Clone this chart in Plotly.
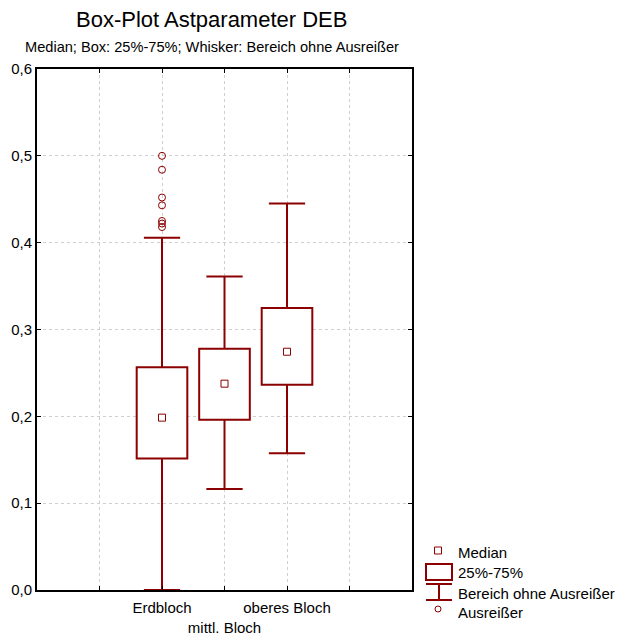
import plotly.graph_objects as go

# ---- data ----
categories = ["Erdbloch", "mittl. Bloch", "oberes Bloch"]
medians = [0.1985, 0.2376, 0.2744]
q1 = [0.1513, 0.1962, 0.2364]
q3 = [0.2564, 0.2778, 0.3247]
whisker_low = [0.0, 0.1164, 0.1574]
whisker_high = [0.4056, 0.3610, 0.4450]
outlier_cat = ["Erdbloch"] * 7
outlier_vals = [0.500, 0.484, 0.452, 0.443, 0.425, 0.422, 0.418]
y_ticks = [0.0, 0.1, 0.2, 0.3, 0.4, 0.5, 0.6]
legend_labels = ["Median", "25%-75%", "Bereich ohne Ausreißer", "Ausreißer"]

# ---- style / layout constants ----
W, H = 619, 641
ML, MR, MT, MB = 37, 207, 69, 51
RED = "#8B0000"
FONT = "Liberation Sans, Arial, sans-serif"
BOX_W = 0.81
CAP_HW = 0.29

pos = [i + 2 for i in range(len(categories))]
posmap = dict(zip(categories, pos))

fig = go.Figure()

# boxes (white fill, dark red outline)
fig.add_trace(go.Bar(
    x=pos, y=[b - a for a, b in zip(q1, q3)], base=q1, width=BOX_W,
    marker=dict(color="white", line=dict(color=RED, width=2)),
    showlegend=False, hoverinfo="skip"))

# whiskers with caps
wx, wy = [], []
for p, lo, a, b, hi in zip(pos, whisker_low, q1, q3, whisker_high):
    wx += [p, p, None, p - CAP_HW, p + CAP_HW, None,
           p, p, None, p - CAP_HW, p + CAP_HW, None]
    wy += [b, hi, None, hi, hi, None,
           lo, a, None, lo, lo, None]
fig.add_trace(go.Scatter(x=wx, y=wy, mode="lines",
                         line=dict(color=RED, width=2),
                         showlegend=False, hoverinfo="skip"))

# medians
fig.add_trace(go.Scatter(x=pos, y=medians, mode="markers",
                         marker=dict(symbol="square-open", size=7, color=RED,
                                     line=dict(width=1, color=RED)),
                         showlegend=False))

# outliers
fig.add_trace(go.Scatter(x=[posmap[c] for c in outlier_cat], y=outlier_vals,
                         mode="markers",
                         marker=dict(symbol="circle-open", size=7, color=RED,
                                     line=dict(width=1, color=RED)),
                         showlegend=False))

# ---- custom legend (paper coordinates from pixels) ----
PW = W - ML - MR
PH = H - MT - MB


def px(x):
    return (x - ML) / PW


def py(y):
    return (H - MB - y) / PH


shapes = [
    dict(type="rect", xref="paper", yref="paper", x0=px(434.5), x1=px(441.5),
         y0=py(554), y1=py(547), line=dict(color=RED, width=1)),
    dict(type="rect", xref="paper", yref="paper", x0=px(426), x1=px(452),
         y0=py(580), y1=py(564), line=dict(color=RED, width=2)),
    dict(type="line", xref="paper", yref="paper", x0=px(439), x1=px(439),
         y0=py(600), y1=py(584), line=dict(color=RED, width=2)),
    dict(type="line", xref="paper", yref="paper", x0=px(426), x1=px(452),
         y0=py(584), y1=py(584), line=dict(color=RED, width=2)),
    dict(type="line", xref="paper", yref="paper", x0=px(426), x1=px(452),
         y0=py(600), y1=py(600), line=dict(color=RED, width=2)),
    dict(type="circle", xref="paper", yref="paper", x0=px(435), x1=px(441),
         y0=py(612), y1=py(606), line=dict(color=RED, width=1)),
]
annotations = []
for lab, yy in zip(legend_labels, [552, 572, 593, 612]):
    annotations.append(dict(text=lab, xref="paper", yref="paper", x=px(456),
                            y=py(yy), xanchor="left", yanchor="middle",
                            showarrow=False, font=dict(size=15, color="black",
                                                       family=FONT)))
annotations.append(dict(text="Box-Plot Astparameter DEB", xref="paper",
                        yref="paper", x=px(211), y=py(19), xanchor="center",
                        yanchor="middle", showarrow=False,
                        font=dict(size=22, color="black", family=FONT)))
annotations.append(dict(text="Median; Box: 25%-75%; Whisker: Bereich ohne Ausreißer",
                        xref="paper", yref="paper", x=px(212), y=py(47),
                        xanchor="center", yanchor="middle", showarrow=False,
                        font=dict(size=14.6, color="black", family=FONT)))

ticktext = [""] + [c if i % 2 == 0 else "<br>" + c
                   for i, c in enumerate(categories)] + [""]

fig.update_layout(
    width=W, height=H, margin=dict(l=ML, r=MR, t=MT, b=MB, pad=0),
    paper_bgcolor="white", plot_bgcolor="white",
    font=dict(family=FONT, size=15, color="black"),
    separators=",.",
    showlegend=False,
    shapes=shapes, annotations=annotations,
    xaxis=dict(range=[0, 6], tickvals=[1, 2, 3, 4, 5], ticktext=ticktext,
               tickangle=0, automargin=False, ticklabelstandoff=3,
               showgrid=True, gridcolor="#cfcfcf", griddash="dot", gridwidth=1,
               showline=True, linecolor="black", linewidth=2, mirror="ticks",
               ticks="inside", ticklen=4, tickcolor="black", zeroline=False,
               tickfont=dict(size=15)),
    yaxis=dict(range=[0, 0.6], tickvals=y_ticks, tickformat=".1f",
               automargin=False,
               showgrid=True, gridcolor="#cfcfcf", griddash="dot", gridwidth=1,
               showline=True, linecolor="black", linewidth=2, mirror="ticks",
               ticks="inside", ticklen=4, tickcolor="black", zeroline=False,
               tickfont=dict(size=15)),
)

fig.write_html("out.html", config={"displayModeBar": False},
               post_script="document.body.style.margin='0';")
